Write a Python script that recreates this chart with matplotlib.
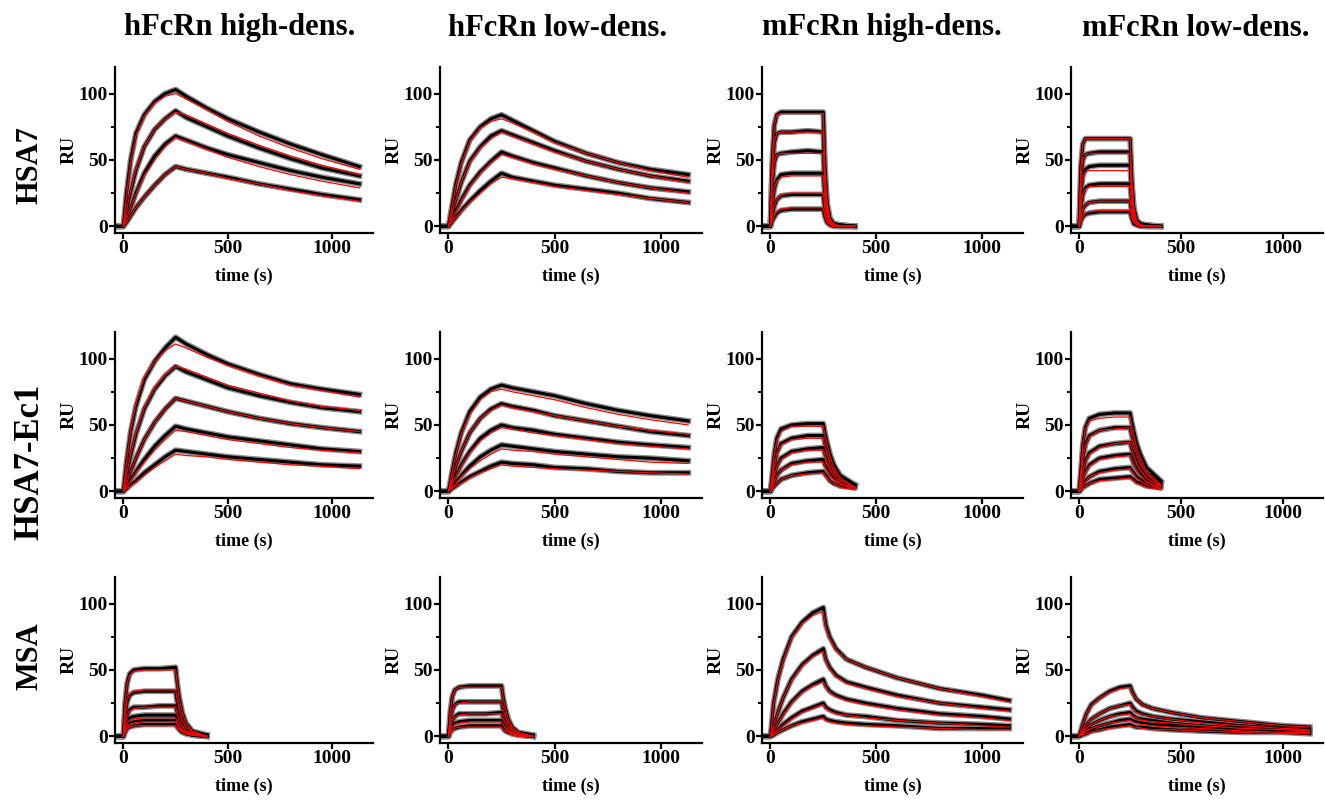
import matplotlib
matplotlib.use("Agg")
import matplotlib.pyplot as plt
from matplotlib.ticker import MultipleLocator

plt.rcParams['font.family'] = ['Liberation Serif', 'DejaVu Serif']
plt.rcParams['font.weight'] = 'bold'

# column / row headers
col_titles = ['hFcRn high-dens.', 'hFcRn low-dens.', 'mFcRn high-dens.', 'mFcRn low-dens.']
row_titles = ['HSA7', 'HSA7-Ec1', 'MSA']
row_title_sizes = [22, 25, 22]

# sampling times (s)
t_slow = [-30, 0, 15, 35, 60, 100, 150, 200, 250, 300, 400, 500, 650, 800, 950, 1130]
t_fast = [-30, 0, 8, 18, 30, 50, 100, 175, 250, 258, 268, 282, 300, 330, 400]
t_msa = [-30, 0, 15, 35, 60, 100, 150, 200, 250, 262, 280, 310, 360, 450, 600, 800, 1000, 1130]

# ---- HSA7 ----
hsa7_hh_obs = [[0, 0, 25, 50, 70, 84, 94, 100, 103, 98, 89, 81, 71, 62, 54, 45],
               [0, 0, 12, 26, 42, 60, 73, 81, 87, 82, 75, 68, 59, 51, 44, 38],
               [0, 0, 6, 14, 25, 40, 53, 62, 68, 65, 59, 54, 48, 42, 37, 32],
               [0, 0, 3, 8, 14, 22, 31, 39, 45, 43, 40, 37, 32, 28, 24, 20]]
hsa7_hh_fit = [[0, 0, 23, 48, 68, 83, 93, 98, 100, 96, 88, 79, 68, 59, 51, 43],
               [0, 0, 12, 27, 43, 60, 73, 81, 86, 84, 77, 70, 61, 53, 46, 39],
               [0, 0, 6, 14, 24, 38, 50, 60, 67, 64, 58, 52, 45, 39, 34, 29],
               [0, 0, 3, 8, 14, 22, 31, 39, 45, 43, 40, 36, 32, 27, 23, 19]]

hsa7_hl_obs = [[0, 0, 14, 32, 48, 65, 75, 81, 84, 80, 72, 64, 55, 48, 43, 39],
               [0, 0, 9, 20, 33, 49, 60, 68, 72, 69, 63, 57, 49, 43, 38, 34],
               [0, 0, 5, 12, 20, 31, 41, 49, 56, 53, 48, 44, 38, 33, 29, 26],
               [0, 0, 3, 7, 12, 19, 27, 34, 40, 37, 34, 31, 28, 25, 21, 18]]
hsa7_hl_fit = [[0, 0, 14, 31, 47, 64, 74, 79, 81, 78, 71, 63, 55, 48, 42, 37],
               [0, 0, 9, 20, 33, 48, 59, 66, 71, 68, 62, 56, 49, 43, 38, 33],
               [0, 0, 5, 11, 19, 30, 40, 48, 54, 52, 47, 43, 38, 33, 29, 25],
               [0, 0, 3, 7, 11, 18, 25, 32, 37, 36, 33, 30, 27, 24, 21, 18]]

hsa7_mh_obs = [[0, 0, 48, 76, 84, 86, 86, 86, 86, 45, 18, 6, 2, 1, 0],
               [0, 0, 40, 63, 70, 71, 71, 72, 71, 37, 15, 5, 2, 1, 0],
               [0, 0, 30, 48, 54, 55, 56, 57, 56, 29, 12, 4, 2, 1, 0],
               [0, 0, 16, 28, 35, 39, 40, 40, 40, 21, 8, 3, 1, 0, 0],
               [0, 0, 8, 15, 20, 23, 24, 24, 24, 12, 5, 2, 1, 0, 0],
               [0, 0, 4, 7, 10, 12, 13, 13, 13, 7, 3, 1, 0, 0, 0]]
hsa7_mh_fit = [[0, 0, 48, 76, 84, 85, 85, 85, 85, 45, 18, 5, 2, 0, 0],
               [0, 0, 40, 63, 70, 71, 71, 71, 71, 37, 15, 4, 1, 0, 0],
               [0, 0, 30, 48, 54, 55, 55, 55, 55, 29, 12, 3, 1, 0, 0],
               [0, 0, 16, 28, 34, 37, 38, 38, 38, 20, 8, 2, 1, 0, 0],
               [0, 0, 8, 15, 20, 24, 25, 25, 25, 13, 5, 1, 0, 0, 0],
               [0, 0, 4, 8, 11, 13, 14, 14, 14, 7, 3, 1, 0, 0, 0]]

hsa7_ml_obs = [[0, 0, 45, 62, 66, 66, 66, 66, 66, 35, 14, 5, 2, 1, 0],
               [0, 0, 35, 50, 54, 55, 56, 56, 56, 29, 12, 4, 2, 1, 0],
               [0, 0, 25, 38, 43, 45, 46, 46, 46, 24, 10, 3, 1, 1, 0],
               [0, 0, 14, 24, 29, 31, 32, 32, 32, 17, 7, 2, 1, 0, 0],
               [0, 0, 7, 13, 16, 18, 19, 19, 19, 10, 4, 1, 1, 0, 0],
               [0, 0, 4, 7, 9, 10, 11, 11, 11, 6, 2, 1, 0, 0, 0]]
hsa7_ml_fit = [[0, 0, 45, 62, 66, 66, 66, 66, 66, 35, 14, 4, 1, 0, 0],
               [0, 0, 35, 50, 54, 55, 55, 55, 55, 29, 12, 3, 1, 0, 0],
               [0, 0, 25, 37, 41, 42, 42, 42, 42, 22, 9, 3, 1, 0, 0],
               [0, 0, 14, 24, 28, 30, 30, 30, 30, 16, 6, 2, 1, 0, 0],
               [0, 0, 7, 13, 16, 18, 19, 19, 19, 10, 4, 1, 0, 0, 0],
               [0, 0, 4, 7, 10, 11, 12, 12, 12, 6, 3, 1, 0, 0, 0]]

# ---- HSA7-Ec1 ----
ec1_hh_obs = [[0, 0, 22, 45, 64, 84, 98, 108, 116, 111, 103, 96, 88, 81, 77, 73],
              [0, 0, 12, 27, 43, 62, 77, 87, 94, 90, 84, 78, 72, 67, 63, 60],
              [0, 0, 6, 15, 25, 39, 52, 62, 70, 68, 64, 60, 55, 51, 48, 45],
              [0, 0, 4, 9, 15, 24, 34, 42, 49, 47, 44, 41, 38, 35, 32, 30],
              [0, 0, 2, 5, 8, 14, 20, 26, 31, 30, 28, 26, 24, 22, 20, 19]]
ec1_hh_fit = [[0, 0, 22, 46, 66, 86, 98, 106, 111, 108, 101, 95, 87, 80, 76, 71],
              [0, 0, 12, 28, 44, 63, 78, 88, 94, 92, 86, 80, 74, 68, 64, 61],
              [0, 0, 6, 15, 25, 39, 52, 62, 70, 68, 64, 60, 55, 51, 48, 45],
              [0, 0, 3, 8, 14, 22, 31, 39, 46, 45, 42, 39, 36, 33, 31, 29],
              [0, 0, 2, 4, 7, 12, 18, 23, 28, 27, 26, 24, 22, 20, 19, 17]]

ec1_hl_obs = [[0, 0, 13, 29, 44, 60, 71, 77, 80, 78, 75, 72, 66, 61, 57, 53],
              [0, 0, 8, 19, 30, 44, 55, 62, 66, 64, 61, 57, 53, 49, 45, 42],
              [0, 0, 5, 12, 20, 30, 40, 46, 50, 48, 46, 43, 40, 37, 35, 33],
              [0, 0, 3, 7, 12, 19, 26, 31, 35, 34, 32, 30, 28, 26, 25, 23],
              [0, 0, 2, 4, 7, 11, 15, 19, 22, 21, 20, 18, 17, 15, 14, 14]]
ec1_hl_fit = [[0, 0, 13, 28, 43, 58, 69, 75, 77, 75, 72, 69, 63, 58, 54, 50],
              [0, 0, 8, 19, 30, 44, 55, 61, 65, 63, 60, 57, 53, 49, 46, 43],
              [0, 0, 5, 11, 19, 29, 38, 44, 48, 47, 44, 42, 39, 36, 34, 32],
              [0, 0, 3, 6, 11, 17, 23, 28, 32, 31, 30, 28, 26, 24, 22, 21],
              [0, 0, 2, 4, 6, 10, 14, 17, 20, 19, 18, 17, 16, 15, 14, 13]]

ec1_mh_obs = [[0, 0, 12, 28, 40, 47, 50, 51, 51, 44, 37, 28, 20, 12, 5],
              [0, 0, 8, 19, 29, 36, 40, 42, 42, 36, 30, 23, 16, 10, 5],
              [0, 0, 5, 12, 19, 25, 30, 32, 33, 28, 24, 18, 13, 8, 4],
              [0, 0, 3, 7, 12, 16, 21, 23, 24, 20, 17, 13, 10, 6, 4],
              [0, 0, 2, 4, 6, 9, 12, 14, 15, 13, 11, 8, 6, 4, 3]]
ec1_mh_fit = [[0, 0, 12, 28, 38, 45, 49, 49, 49, 42, 35, 26, 18, 10, 3],
              [0, 0, 8, 19, 28, 35, 39, 40, 40, 34, 28, 21, 15, 8, 3],
              [0, 0, 5, 12, 18, 24, 29, 31, 31, 27, 22, 17, 12, 6, 2],
              [0, 0, 3, 7, 11, 16, 20, 22, 22, 19, 16, 12, 9, 5, 2],
              [0, 0, 2, 4, 6, 9, 12, 13, 14, 12, 10, 8, 6, 3, 1]]

ec1_ml_obs = [[0, 0, 15, 35, 48, 55, 58, 59, 59, 52, 45, 36, 28, 18, 8],
              [0, 0, 10, 24, 35, 42, 46, 48, 48, 42, 36, 29, 22, 14, 7],
              [0, 0, 6, 15, 23, 29, 34, 36, 37, 32, 28, 22, 17, 11, 6],
              [0, 0, 4, 10, 15, 20, 25, 27, 28, 25, 21, 17, 13, 9, 5],
              [0, 0, 2, 5, 8, 11, 15, 17, 18, 16, 14, 11, 9, 6, 4],
              [0, 0, 1, 3, 4, 6, 9, 10, 11, 10, 9, 7, 6, 4, 3]]
ec1_ml_fit = [[0, 0, 15, 35, 47, 53, 55, 56, 56, 49, 42, 33, 25, 15, 5],
              [0, 0, 10, 24, 34, 41, 46, 47, 48, 41, 35, 28, 21, 13, 4],
              [0, 0, 6, 15, 22, 28, 33, 36, 37, 32, 27, 21, 16, 10, 3],
              [0, 0, 4, 9, 14, 19, 24, 26, 27, 24, 20, 16, 12, 7, 2],
              [0, 0, 2, 5, 7, 11, 14, 16, 17, 15, 13, 10, 8, 5, 2],
              [0, 0, 1, 2, 4, 6, 8, 9, 10, 9, 8, 6, 5, 3, 1]]

# ---- MSA ----
msa_hh_obs = [[0, 0, 25, 40, 47, 50, 51, 51, 52, 40, 29, 18, 10, 4, 1],
              [0, 0, 15, 26, 31, 33, 34, 34, 34, 26, 19, 12, 7, 3, 1],
              [0, 0, 9, 16, 20, 22, 22, 23, 23, 18, 13, 8, 5, 2, 1],
              [0, 0, 6, 11, 14, 15, 16, 16, 16, 12, 9, 6, 3, 1, 0],
              [0, 0, 4, 8, 10, 11, 12, 12, 12, 9, 7, 4, 2, 1, 0],
              [0, 0, 3, 6, 7, 8, 9, 9, 9, 7, 5, 3, 2, 1, 0]]
msa_hh_fit = [[0, 0, 25, 40, 46, 49, 50, 50, 50, 39, 28, 18, 10, 4, 0],
              [0, 0, 16, 27, 32, 34, 35, 35, 35, 27, 20, 12, 7, 3, 0],
              [0, 0, 9, 16, 19, 21, 22, 22, 22, 17, 12, 8, 4, 2, 0],
              [0, 0, 5, 10, 12, 13, 14, 14, 14, 11, 8, 5, 3, 1, 0],
              [0, 0, 4, 7, 9, 10, 11, 11, 11, 9, 6, 4, 2, 1, 0],
              [0, 0, 3, 5, 7, 8, 8, 8, 8, 6, 5, 3, 2, 1, 0]]

msa_hl_obs = [[0, 0, 18, 30, 35, 37, 38, 38, 38, 29, 21, 13, 7, 3, 1],
              [0, 0, 12, 20, 24, 26, 26, 26, 26, 20, 15, 9, 5, 2, 0],
              [0, 0, 7, 12, 15, 17, 17, 17, 18, 14, 10, 6, 3, 1, 0],
              [0, 0, 4, 8, 10, 11, 12, 12, 12, 9, 7, 4, 2, 1, 0],
              [0, 0, 3, 5, 6, 7, 8, 8, 8, 6, 4, 3, 2, 1, 0]]
msa_hl_fit = [[0, 0, 18, 30, 35, 37, 37, 37, 37, 29, 21, 13, 7, 3, 0],
              [0, 0, 12, 20, 24, 25, 26, 26, 26, 20, 15, 9, 5, 2, 0],
              [0, 0, 7, 12, 15, 16, 17, 17, 17, 13, 10, 6, 3, 1, 0],
              [0, 0, 4, 7, 9, 10, 11, 11, 11, 9, 6, 4, 2, 1, 0],
              [0, 0, 2, 4, 6, 7, 7, 7, 7, 5, 4, 3, 1, 0, 0]]

msa_mh_obs = [[0, 0, 25, 43, 58, 75, 86, 93, 97, 84, 75, 66, 58, 52, 44, 36, 31, 27],
              [0, 0, 8, 18, 29, 43, 54, 61, 66, 58, 52, 46, 41, 37, 31, 25, 22, 20],
              [0, 0, 4, 10, 17, 26, 34, 39, 43, 38, 34, 31, 28, 25, 21, 17, 15, 13],
              [0, 0, 2, 5, 9, 14, 19, 22, 25, 22, 20, 18, 16, 15, 12, 10, 9, 8],
              [0, 0, 1, 3, 5, 8, 11, 13, 15, 13, 12, 11, 10, 9, 8, 6, 6, 6]]
msa_mh_fit = [[0, 0, 24, 42, 57, 74, 85, 91, 94, 82, 74, 65, 58, 52, 44, 36, 30, 26],
              [0, 0, 8, 18, 29, 42, 53, 60, 64, 57, 51, 45, 40, 36, 30, 25, 21, 19],
              [0, 0, 4, 10, 16, 25, 33, 38, 41, 37, 33, 30, 27, 24, 20, 16, 14, 12],
              [0, 0, 2, 5, 8, 13, 18, 21, 24, 21, 19, 17, 16, 14, 12, 10, 8, 7],
              [0, 0, 1, 3, 5, 8, 10, 12, 14, 12, 11, 10, 9, 8, 7, 6, 5, 5]]

msa_ml_obs = [[0, 0, 8, 17, 24, 29, 34, 37, 38, 33, 28, 24, 21, 18, 14, 11, 8, 7],
              [0, 0, 4, 9, 13, 17, 21, 23, 25, 22, 19, 17, 15, 13, 11, 8, 6, 5],
              [0, 0, 3, 6, 9, 12, 15, 17, 18, 16, 14, 13, 12, 10, 8, 6, 5, 4],
              [0, 0, 2, 4, 6, 8, 10, 12, 13, 12, 11, 10, 9, 8, 6, 5, 4, 3],
              [0, 0, 1, 2, 4, 5, 7, 8, 9, 8, 7, 7, 6, 5, 4, 3, 3, 2]]
msa_ml_fit = [[0, 0, 8, 17, 23, 29, 33, 36, 37, 32, 28, 24, 21, 18, 14, 11, 8, 7],
              [0, 0, 4, 9, 13, 17, 21, 23, 24, 21, 18, 16, 15, 13, 10, 8, 6, 5],
              [0, 0, 3, 6, 9, 12, 15, 16, 17, 15, 14, 12, 11, 10, 8, 6, 5, 4],
              [0, 0, 2, 4, 6, 8, 10, 11, 12, 11, 10, 9, 8, 7, 6, 4, 3, 3],
              [0, 0, 1, 2, 3, 5, 6, 7, 8, 7, 7, 6, 5, 5, 4, 3, 2, 2]]

panels = [
    [(t_slow, hsa7_hh_obs, hsa7_hh_fit), (t_slow, hsa7_hl_obs, hsa7_hl_fit),
     (t_fast, hsa7_mh_obs, hsa7_mh_fit), (t_fast, hsa7_ml_obs, hsa7_ml_fit)],
    [(t_slow, ec1_hh_obs, ec1_hh_fit), (t_slow, ec1_hl_obs, ec1_hl_fit),
     (t_fast, ec1_mh_obs, ec1_mh_fit), (t_fast, ec1_ml_obs, ec1_ml_fit)],
    [(t_fast, msa_hh_obs, msa_hh_fit), (t_fast, msa_hl_obs, msa_hl_fit),
     (t_msa, msa_mh_obs, msa_mh_fit), (t_msa, msa_ml_obs, msa_ml_fit)],
]

W, H = 1325, 801
fig = plt.figure(figsize=(W / 100, H / 100), dpi=100)

# axes boxes in pixels (left, width) and (top, height)
col_box = [(115, 258), (440, 262), (762, 261), (1071, 252)]
row_box = [(67, 166), (332, 166), (577, 166)]
col_centers = [240, 558, 882, 1196]
row_centers = [165, 462, 656]

for r in range(3):
    for c in range(4):
        left, wd = col_box[c]
        top, ht = row_box[r]
        ax = fig.add_axes([left / W, 1 - (top + ht) / H, wd / W, ht / H])
        t, obs, fit = panels[r][c]
        for y in obs:
            ax.plot(t, y, color='#8a8a8a', lw=4.2, solid_joinstyle='round', zorder=1)
            ax.plot(t, y, color='black', lw=2.2, zorder=2)
        for y in fit:
            ax.plot(t[1:], y[1:], color='red', lw=0.9, zorder=3)

        ax.set_xlim(-40, 1195)
        ax.set_ylim(-5, 120)
        ax.set_xticks([0, 500, 1000])
        ax.set_yticks([0, 50, 100])
        ax.yaxis.set_minor_locator(MultipleLocator(25))
        for side in ['top', 'right']:
            ax.spines[side].set_visible(False)
        for side in ['left', 'bottom']:
            ax.spines[side].set_linewidth(1.6)
        ax.tick_params(which='major', length=4, width=1.6, labelsize=14, pad=1)
        ax.tick_params(which='minor', length=3, width=1.4)
        ax.set_xlabel('time (s)', fontsize=13, fontweight='bold', labelpad=8)
        ax.set_ylabel('RU', fontsize=14, fontweight='bold', labelpad=1)
        for lab in ax.get_xticklabels() + ax.get_yticklabels():
            lab.set_fontweight('bold')

for c in range(4):
    fig.text(col_centers[c] / W, 1 - 28 / H, col_titles[c], ha='center', va='center',
             fontsize=22, fontweight='bold')
for r in range(3):
    fig.text(30 / W, 1 - row_centers[r] / H, row_titles[r], ha='center', va='center',
             rotation=90, fontsize=row_title_sizes[r], fontweight='bold')

plt.savefig('out.png', dpi=100)
